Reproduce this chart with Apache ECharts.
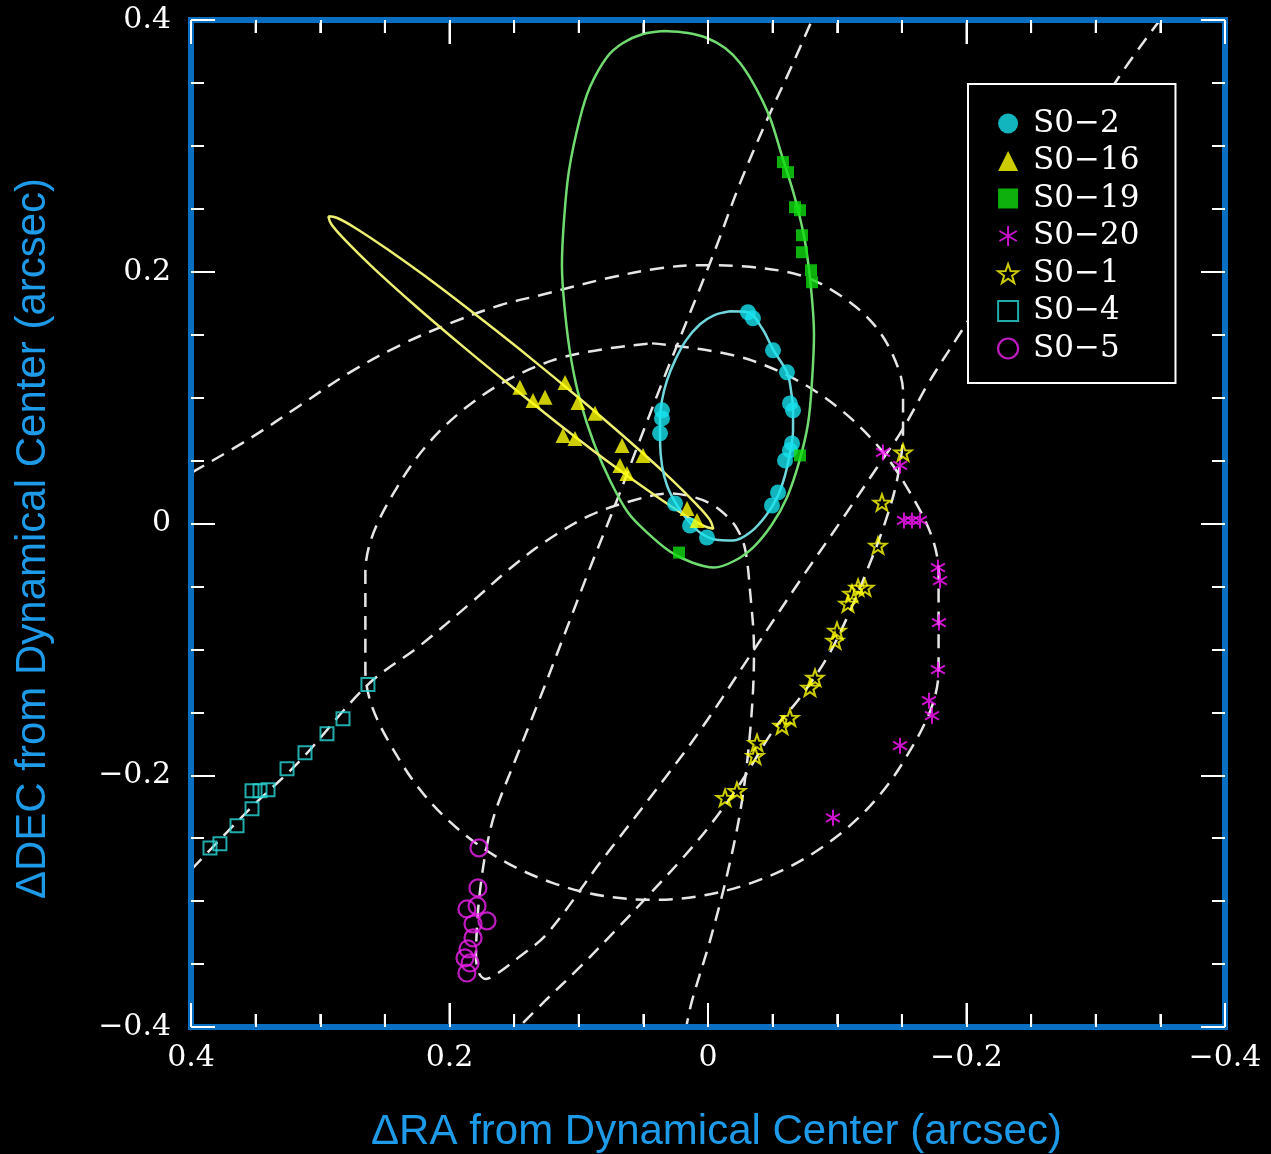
<!DOCTYPE html>
<html>
<head>
<meta charset="utf-8">
<script src="https://cdn.jsdelivr.net/npm/echarts@6/dist/echarts.min.js"></script>
<style>
html, body { margin: 0; padding: 0; background: #000; }
#chart { width: 1271px; height: 1154px; }
</style>
</head>
<body>
<div id="chart"></div>
<script>
// ---- axis ticks (arcsec) ----
const raTicks = [0.4, 0.2, 0, -0.2, -0.4];
const raMinorTicks = [0.35, 0.3, 0.25, 0.15, 0.1, 0.05, -0.05, -0.1, -0.15, -0.25, -0.3, -0.35];
const decTicks = [-0.4, -0.2, 0, 0.2, 0.4];

// ---- measured positions [dRA, dDEC] in arcsec ----
const s02 = [[-0.0309,0.1678],[-0.0348,0.1630],[-0.0503,0.1376],[-0.0611,0.1201],[-0.0634,0.0954],[-0.0658,0.0899],
  [-0.0650,0.0636],[-0.0634,0.0581],[-0.0596,0.0501],[0.0356,0.0899],[0.0356,0.0835],[0.0371,0.0716],
  [-0.0542,0.0247],[-0.0495,0.0143],[0.0255,0.0159],[0.0139,-0.0016],[0.0008,-0.0111]];
const s016 = [[0.1455,0.1082],[0.1354,0.0978],[0.1261,0.1002],[0.1106,0.1121],[0.1006,0.0962],[0.0874,0.0875],
  [0.1122,0.0700],[0.1029,0.0676],[0.0665,0.0620],[0.0503,0.0541],[0.0681,0.0461],[0.0627,0.0398],
  [0.0162,0.0119],[0.0085,0.0024]];
const s019 = [[-0.0580,0.2871],[-0.0619,0.2791],[-0.0673,0.2513],[-0.0712,0.2489],[-0.0727,0.2290],[-0.0727,0.2155],
  [-0.0797,0.2012],[-0.0805,0.1917],[-0.0712,0.0541],[0.0224,-0.0231]];
const s020 = [[-0.1354,0.0565],[-0.1486,0.0461],[-0.1516,0.0024],[-0.1578,0.0024],[-0.1640,0.0024],[-0.1779,-0.0350],
  [-0.1795,-0.0453],[-0.1787,-0.0787],[-0.1779,-0.1161],[-0.1710,-0.1408],[-0.1733,-0.1527],[-0.1486,-0.1765],
  [-0.0967,-0.2338]];
const s01 = [[-0.1509,0.0565],[-0.1346,0.0167],[-0.1315,-0.0175],[-0.1161,-0.0509],[-0.1215,-0.0509],[-0.1114,-0.0557],
  [-0.1083,-0.0636],[-0.0998,-0.0851],[-0.0983,-0.0930],[-0.0828,-0.1225],[-0.0789,-0.1304],[-0.0634,-0.1543],
  [-0.0573,-0.1606],[-0.0379,-0.1742],[-0.0364,-0.1845],[-0.0224,-0.2123],[-0.0132,-0.2179]];
const s04 = [[0.2631,-0.1280],[0.2824,-0.1551],[0.2948,-0.1670],[0.3118,-0.1821],[0.3257,-0.1948],[0.3404,-0.2115],
  [0.3466,-0.2123],[0.3528,-0.2123],[0.3528,-0.2266],[0.3644,-0.2402],[0.3776,-0.2545],[0.3853,-0.2577]];
const s05 = [[0.1772,-0.2577],[0.1780,-0.2895],[0.1865,-0.3062],[0.1787,-0.3038],[0.1710,-0.3157],[0.1818,-0.3181],
  [0.1818,-0.3292],[0.1857,-0.3380],[0.1880,-0.3451],[0.1841,-0.3491],[0.1865,-0.3571]];

// ---- orbit tracks [dRA, dDEC] ----
const orbitS02 = [[-0.0170,0.1686],[-0.0309,0.1678],[-0.0418,0.1551],[-0.0503,0.1384],[-0.0611,0.1201],[-0.0642,0.1058],
  [-0.0658,0.0899],[-0.0658,0.0740],[-0.0634,0.0557],[-0.0596,0.0382],[-0.0542,0.0223],[-0.0449,0.0064],
  [-0.0325,-0.0072],[-0.0193,-0.0135],[-0.0054,-0.0127],[0.0062,-0.0072],[0.0155,0.0024],[0.0248,0.0159],
  [0.0317,0.0302],[0.0356,0.0461],[0.0371,0.0660],[0.0371,0.0819],[0.0356,0.0978],[0.0317,0.1137],
  [0.0255,0.1296],[0.0170,0.1455],[0.0062,0.1583],[-0.0046,0.1654],[-0.0170,0.1686]];
const orbitS016 = [[0.2938,0.2441],[0.2873,0.2429],[0.2735,0.2352],[0.2477,0.2176],[0.2099,0.1897],[0.1731,0.1606],
  [0.1368,0.1310],[0.1010,0.1007],[0.0657,0.0697],[0.0312,0.0379],[0.0091,0.0154],[-0.0012,0.0033],
  [-0.0041,-0.0042],[0.0028,-0.0020],[0.0166,0.0057],[0.0425,0.0234],[0.0802,0.0513],[0.1171,0.0803],
  [0.1533,0.1100],[0.1892,0.1403],[0.2245,0.1712],[0.2590,0.2031],[0.2811,0.2255],[0.2914,0.2377],[0.2938,0.2441]];
const orbitS019 = [[0.0333,0.3913],[0.0155,0.3897],[0.0008,0.3857],[-0.0132,0.3777],[-0.0248,0.3658],[-0.0371,0.3459],
  [-0.0480,0.3221],[-0.0573,0.2918],
  [-0.0673,0.2584],[-0.0750,0.2243],[-0.0797,0.1869],[-0.0820,0.1503],[-0.0805,0.1137],[-0.0774,0.0795],
  [-0.0704,0.0485],[-0.0611,0.0207],[-0.0495,-0.0008],[-0.0356,-0.0183],[-0.0209,-0.0294],[-0.0046,-0.0350],
  [0.0124,-0.0310],[0.0294,-0.0223],[0.0464,-0.0079],[0.0619,0.0087],[0.0758,0.0342],[0.0882,0.0636],
  [0.0990,0.0978],[0.1060,0.1312],[0.1106,0.1678],[0.1130,0.2052],[0.1114,0.2410],[0.1075,0.2807],
  [0.0990,0.3221],[0.0913,0.3467],[0.0781,0.3706],[0.0658,0.3817],[0.0503,0.3889],[0.0333,0.3913]];
const orbitS020 = [[0.0433,0.1431],[-0.0337,0.1296],[-0.1014,0.0915],[-0.1516,0.0326],[-0.1784,-0.0394],[-0.1784,-0.1164],
  [-0.1516,-0.1885],[-0.1014,-0.2473],[-0.0337,-0.2855],[0.0433,-0.2990],[0.1203,-0.2855],[0.1880,-0.2473],
  [0.2383,-0.1885],[0.2651,-0.1164],[0.2651,-0.0394],[0.2383,0.0326],[0.1880,0.0915],[0.1203,0.1296],[0.0433,0.1431]];
const orbitS04 = [[0.3992,-0.2744],[0.3544,-0.2266],[0.3157,-0.1885],[0.2631,-0.1280],[0.2228,-0.0970],[0.1841,-0.0636],
  [0.1532,-0.0358],[0.1246,-0.0135],[0.0913,0.0064],[0.0580,0.0183],[0.0294,0.0239],[0.0101,0.0207],
  [-0.0031,0.0151],[-0.0132,0.0072],[-0.0224,-0.0040],[-0.0286,-0.0199],[-0.0325,-0.0533],[-0.0356,-0.1010],
  [-0.0333,-0.1567],[-0.0263,-0.2203],[-0.0155,-0.2759],[-0.0015,-0.3316],[0.0124,-0.3793],[0.0170,-0.4008]];
const orbitS01 = [[0.3992,0.0406],[0.3544,0.0676],[0.3157,0.0938],[0.2770,0.1201],[0.2383,0.1416],[0.1996,0.1590],
  [0.1609,0.1734],[0.1300,0.1813],[0.0781,0.1948],[0.0371,0.2028],[0.0062,0.2052],[-0.0248,0.2044],
  [-0.0712,0.1972],[-0.1021,0.1813],[-0.1269,0.1598],[-0.1431,0.1336],[-0.1509,0.1042],[-0.1509,0.0740],
  [-0.1462,0.0342],[-0.1362,-0.0016],[-0.1230,-0.0374],[-0.1083,-0.0732],[-0.0921,-0.1066],[-0.0712,-0.1384],
  [-0.0503,-0.1646],[-0.0263,-0.2044],[-0.0031,-0.2378],[0.0201,-0.2664],[0.0449,-0.2942],[0.0720,-0.3237],
  [0.0990,-0.3523],[0.1261,-0.3793],[0.1470,-0.4008]];
const orbitS05 = [[-0.3497,0.4000],[-0.3164,0.3523],[-0.2569,0.2529],[-0.1965,0.1535],[-0.1718,0.1137],[-0.1501,0.0740],
  [-0.1308,0.0445],[-0.1021,0.0008],[-0.0712,-0.0453],[-0.0325,-0.1050],[0.0062,-0.1646],[0.0449,-0.2179],
  [0.0836,-0.2696],[0.1246,-0.3260],[0.1470,-0.3451],[0.1625,-0.3571],[0.1718,-0.3618],[0.1772,-0.3571],
  [0.1795,-0.3435],[0.1787,-0.3197],[0.1764,-0.2918],[0.1718,-0.2600],[0.1648,-0.2298],[0.1493,-0.1885],
  [0.1308,-0.1408],[0.1114,-0.0891],[0.0921,-0.0374],[0.0720,0.0143],[0.0534,0.0644],[0.0348,0.1137],
  [0.0162,0.1614],[-0.0054,0.2171],[-0.0248,0.2704],[-0.0456,0.3205],[-0.0634,0.3602],[-0.0805,0.4000]];

// East is to the left: the horizontal axis runs on -dRA so dRA decreases to the right,
// and its labels print dRA back.
const eastLeft = pts => pts.map(p => [-p[0], p[1]]);

// ---- symbols ----
const starPath = 'path://M0,-10L2.35,-3.24L9.51,-3.09L3.8,1.24L5.88,8.09L0,4L-5.88,8.09L-3.8,1.24L-9.51,-3.09L-2.35,-3.24Z';
const asteriskPath = 'path://M0,-10L0,10M-8.66,-5L8.66,5M-8.66,5L8.66,-5';

const C = {
  cyan: '#16e2ee', yellow: '#ffff00', green: '#10dc10', magenta: '#ff18ff',
  sqCyan: '#2ad6d6', ringMag: '#ee22ee',
  orbitCyan: '#6fd6dc', orbitYellow: '#eeee70', orbitGreen: '#70dc70', dash: '#e6e6e6',
  frame: '#0a6fc0', title: '#1e9be8'
};
const TICK_MAJOR = 24, TICK_MINOR = 13;

function fmt(v) {
  if (Math.abs(v) < 1e-9) return '0';
  return (v < 0 ? '\u2212' : '') + Math.abs(v).toFixed(1);
}

const labelStyle = { color: '#ffffff', fontFamily: 'DejaVu Serif', fontSize: 30 };

function axisDef(position, withLabels, isX) {
  const lo = isX ? -raTicks[0] : decTicks[0];
  const hi = isX ? -raTicks[raTicks.length - 1] : decTicks[decTicks.length - 1];
  return {
    type: 'value', position: position, min: lo, max: hi, interval: 0.2, z: 5,
    axisLine: { show: true, onZero: false, lineStyle: { color: C.frame, width: 6, cap: 'square' } },
    splitLine: { show: false },
    axisTick: { show: true, inside: true, length: TICK_MAJOR, lineStyle: { color: '#ffffff', width: 2 } },
    minorTick: { show: true, splitNumber: 4, length: TICK_MINOR, lineStyle: { color: '#ffffff', width: 2 } },
    axisLabel: Object.assign({
      show: withLabels, margin: isX ? 16 : 20,
      formatter: isX ? (v => fmt(-v)) : fmt
    }, labelStyle)
  };
}

const xBottom = axisDef('bottom', true, true);
xBottom.name = '\u0394RA from Dynamical Center (arcsec)';
xBottom.nameLocation = 'middle';
xBottom.nameGap = 84;
xBottom.nameTextStyle = { color: C.title, fontFamily: 'Liberation Sans', fontSize: 42, padding: [0, 0, 0, 17] };
const yLeft = axisDef('left', true, false);
yLeft.name = '\u0394DEC from Dynamical Center (arcsec)';
yLeft.nameLocation = 'middle';
yLeft.nameGap = 137;
yLeft.nameTextStyle = { color: C.title, fontFamily: 'Liberation Sans', fontSize: 42, padding: [0, 30, 0, 0] };

// inward RA tick marks on the bottom and top edges, placed through the x scale
const raTickMarks = raTicks.filter(v => Math.abs(v) < 0.4).map(v => [-v, 1])
  .concat(raMinorTicks.map(v => [-v, 0]));
const raTickSeries = {
  name: 'RA ticks', type: 'custom', coordinateSystem: 'cartesian2d', xAxisIndex: 0, yAxisIndex: 0,
  data: raTickMarks, silent: true, z: 1, clip: false,
  renderItem: function (params, api) {
    const x = api.value(0);
    const len = api.value(1) ? TICK_MAJOR : TICK_MINOR;
    const b = api.coord([x, decTicks[0]]);
    const t = api.coord([x, decTicks[decTicks.length - 1]]);
    const st = { stroke: '#ffffff', lineWidth: 2 };
    return {
      type: 'group',
      children: [
        { type: 'line', shape: { x1: b[0], y1: b[1], x2: b[0], y2: b[1] - len }, style: st },
        { type: 'line', shape: { x1: t[0], y1: t[1], x2: t[0], y2: t[1] + len }, style: st }
      ]
    };
  }
};

function orbit(name, data, color, width, dashed) {
  return {
    name: name, type: 'line', data: eastLeft(data), xAxisIndex: 0, yAxisIndex: 0,
    showSymbol: false, symbol: 'none', smooth: 0.35, silent: true, z: 2, clip: true,
    lineStyle: { color: color, width: width, type: dashed ? [14, 9] : 'solid' }
  };
}
function stars(name, data, symbol, size, itemStyle, keep) {
  return {
    name: name, type: 'scatter', data: eastLeft(data), xAxisIndex: 0, yAxisIndex: 0,
    symbol: symbol, symbolSize: size, symbolKeepAspect: !!keep, z: 3, silent: true,
    itemStyle: itemStyle
  };
}

const names = ['S0\u22122', 'S0\u221216', 'S0\u221219', 'S0\u221220', 'S0\u22121', 'S0\u22124', 'S0\u22125'];
const styles = [
  { color: C.cyan },
  { color: C.yellow },
  { color: C.green },
  { color: C.magenta, borderColor: C.magenta, borderWidth: 2 },
  { color: 'rgba(0,0,0,0)', borderColor: C.yellow, borderWidth: 2 },
  { color: 'rgba(0,0,0,0)', borderColor: C.sqCyan, borderWidth: 2 },
  { color: 'rgba(0,0,0,0)', borderColor: C.ringMag, borderWidth: 2.2 }
];
const icons = ['circle', 'triangle', 'rect', asteriskPath, starPath, 'rect', 'circle'];

const option = {
  backgroundColor: '#000000',
  animation: false,
  grid: { left: 191, right: 46, top: 20, bottom: 127, show: false, outerBoundsMode: 'none' },
  xAxis: [xBottom, axisDef('top', false, true)],
  yAxis: [yLeft, axisDef('right', false, false)],
  legend: {
    orient: 'vertical', left: 968, top: 84,
    padding: [24, 36, 19, 29], itemGap: 6.5, itemWidth: 20, itemHeight: 20,
    borderColor: '#ffffff', borderWidth: 2, backgroundColor: '#000000',
    symbolKeepAspect: true,
    textStyle: { color: '#ffffff', fontFamily: 'DejaVu Serif', fontSize: 31, padding: [0, 0, 0, 10] },
    data: names.map((n, i) => ({ name: n, icon: icons[i], itemStyle: styles[i] }))
  },
  series: [
    raTickSeries,
    orbit('S0-20 orbit', orbitS020, C.dash, 2.5, true),
    orbit('S0-4 orbit', orbitS04, C.dash, 2.5, true),
    orbit('S0-1 orbit', orbitS01, C.dash, 2.5, true),
    orbit('S0-5 orbit', orbitS05, C.dash, 2.5, true),
    orbit('S0-19 orbit', orbitS019, C.orbitGreen, 2.5, false),
    orbit('S0-16 orbit', orbitS016, C.orbitYellow, 2.5, false),
    orbit('S0-2 orbit', orbitS02, C.orbitCyan, 2.5, false),
    stars(names[0], s02, icons[0], 16, styles[0]),
    stars(names[1], s016, icons[1], 15, styles[1]),
    stars(names[2], s019, icons[2], 12, styles[2]),
    stars(names[3], s020, icons[3], 16, styles[3], true),
    stars(names[4], s01, icons[4], 17, styles[4], true),
    stars(names[5], s04, icons[5], 13, styles[5]),
    stars(names[6], s05, icons[6], 17, styles[6])
  ]
};

const chart = echarts.init(document.getElementById('chart'), null, { renderer: 'canvas' });
chart.setOption(option);
</script>
</body>
</html>
